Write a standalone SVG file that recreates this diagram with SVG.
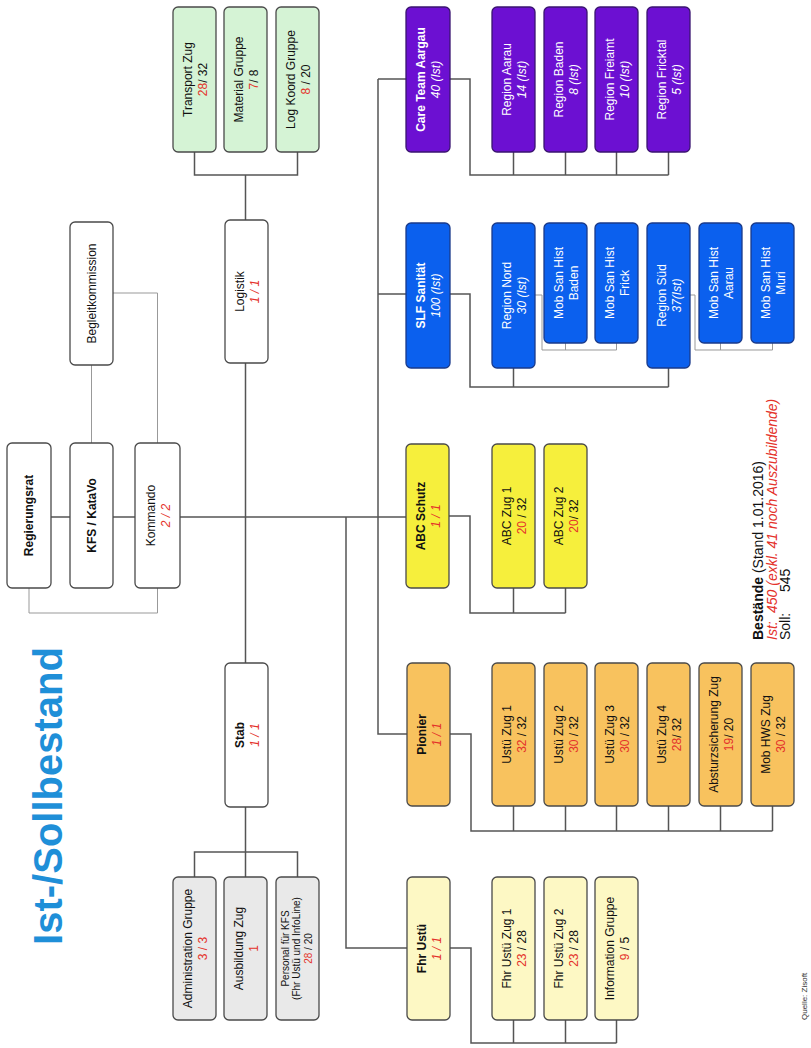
<svg xmlns="http://www.w3.org/2000/svg" width="811" height="1048" viewBox="0 0 811 1048">
<style>
text{font-family:"Liberation Sans",Arial,sans-serif;font-size:12px;fill:#111;text-anchor:middle}
.b{stroke:#4a4a4a;stroke-width:1.3}
.w{fill:#ffffff}.g{fill:#d5f3d5}.gr{fill:#e9e9e9}.ly{fill:#fdf8c4}.o{fill:#f8c25e}.y{fill:#f6ef3c}.bl{fill:#0b60ee;stroke:#1a3a8a}.pu{fill:#6c10d2;stroke:#3a1470}
.bd{font-weight:bold}.it{font-style:italic}
.r{fill:#e4322b}
.wt{fill:#ffffff}
.c{fill:none;stroke:#555;stroke-width:1.5}
.ct{fill:none;stroke:#999;stroke-width:1}
</style>
<rect width="811" height="1048" fill="#ffffff"/>

<text transform="translate(62,796) rotate(-90)" style="font-size:40px;font-weight:bold;fill:#1f8fd8">Ist-/Sollbestand</text>

<g id="connectors">
<path class="c" d="M51 517H70M113 517H135M180 517H406"/>
<path class="ct" d="M29 588V613H157.5V588"/>
<path class="ct" d="M91.5 443V365M113 293H157.5V443"/>
<path class="c" d="M245.5 175V852"/>
<path class="c" d="M194.5 152V175H297.5V152"/>
<path class="c" d="M194.5 877V852H297.5V877M245.5 852V877"/>
<path class="c" d="M346 517V948H407"/>
<path class="c" d="M378 79V734H407M378 79H406M378 294H406"/>
<path class="c" d="M450 79H470V175H668.5M513.5 152V175M565.5 152V175M616.5 152V175M668.5 152V175"/>
<path class="c" d="M450 294H470V387H668.5M513.5 368V387M668.5 368V387"/>
<path class="ct" d="M535 295H542V350H616.5M565.5 343V350M616.5 343V350"/>
<path class="ct" d="M690 295H695V350H772.5M720.5 343V350M772.5 343V350"/>
<path class="c" d="M449 516H470V613H565.5M513.5 588V613M565.5 588V613"/>
<path class="c" d="M450 734H471V831H772.5M513.5 806V831M565.5 806V831M616.5 806V831M668.5 806V831M720.5 806V831M772.5 806V831"/>
<path class="c" d="M450 948H471V1043H616.5M513.5 1020V1043M565.5 1020V1043M616.5 1020V1043"/>
</g>

<g id="n-regierungsrat"><rect class="b w" x="7" y="443" width="44" height="145" rx="5"/><text class="bd" transform="translate(29,515.5) rotate(-90)" y="4">Regierungsrat</text></g>
<g id="n-kfs"><rect class="b w" x="70" y="443" width="43" height="145" rx="5"/><text class="bd" transform="translate(91.5,515.5) rotate(-90)" y="4">KFS / KataVo</text></g>
<g id="n-kommando"><rect class="b w" x="135" y="443" width="45" height="145" rx="5"/><text transform="translate(157.5,515.5) rotate(-90)"><tspan x="0" y="-3">Kommando</tspan><tspan x="0" y="12" class="r it">2 / 2</tspan></text></g>
<g id="n-begleit"><rect class="b w" x="70" y="222" width="43" height="143" rx="5"/><text transform="translate(91.5,293.5) rotate(-90)" y="4">Begleitkommission</text></g>

<g id="n-logistik"><rect class="b w" x="225" y="220" width="43" height="143" rx="5"/><text transform="translate(246.5,291.5) rotate(-90)"><tspan x="0" y="-3">Logistik</tspan><tspan x="0" y="12" class="r it">1 / 1</tspan></text></g>
<g id="n-transport"><rect class="b g" x="173" y="7" width="43" height="145" rx="5"/><text transform="translate(194.5,79.5) rotate(-90)"><tspan x="0" y="-3">Transport Zug</tspan><tspan x="0" y="12"><tspan class="r">28</tspan>/ 32</tspan></text></g>
<g id="n-material"><rect class="b g" x="224" y="7" width="43" height="145" rx="5"/><text transform="translate(245.5,79.5) rotate(-90)"><tspan x="0" y="-3">Material Gruppe</tspan><tspan x="0" y="12"><tspan class="r">7</tspan>/ 8</tspan></text></g>
<g id="n-logkoord"><rect class="b g" x="276" y="7" width="43" height="145" rx="5"/><text transform="translate(297.5,79.5) rotate(-90)"><tspan x="0" y="-3">Log Koord Gruppe</tspan><tspan x="0" y="12"><tspan class="r">8</tspan> / 20</tspan></text></g>

<g id="n-stab"><rect class="b w" x="225" y="663" width="43" height="144" rx="5"/><text transform="translate(246.5,735) rotate(-90)"><tspan x="0" y="-3" class="bd">Stab</tspan><tspan x="0" y="12" class="r it">1 / 1</tspan></text></g>
<g id="n-admin"><rect class="b gr" x="173" y="877" width="43" height="143" rx="5"/><text transform="translate(194.5,948.5) rotate(-90)"><tspan x="0" y="-3">Administration Gruppe</tspan><tspan x="0" y="12" class="r">3 / 3</tspan></text></g>
<g id="n-ausbildung"><rect class="b gr" x="224" y="877" width="43" height="143" rx="5"/><text transform="translate(245.5,948.5) rotate(-90)"><tspan x="0" y="-3">Ausbildung Zug</tspan><tspan x="0" y="12" class="r">1</tspan></text></g>
<g id="n-personal"><rect class="b gr" x="276" y="877" width="43" height="143" rx="5"/><text transform="translate(297.5,948.5) rotate(-90)" style="font-size:10px"><tspan x="0" y="-9">Personal für KFS</tspan><tspan x="0" y="2">(Fhr Ustü und InfoLine)</tspan><tspan x="0" y="14"><tspan class="r">28</tspan> / 20</tspan></text></g>

<g id="n-fhrustu"><rect class="b ly" x="407" y="877" width="43" height="143" rx="5"/><text transform="translate(428.5,948.5) rotate(-90)"><tspan x="0" y="-3" class="bd">Fhr Ustü</tspan><tspan x="0" y="12" class="r it">1 / 1</tspan></text></g>
<g id="n-fhrzug1"><rect class="b ly" x="492" y="877" width="43" height="143" rx="5"/><text transform="translate(513.5,948.5) rotate(-90)"><tspan x="0" y="-3">Fhr Ustü Zug 1</tspan><tspan x="0" y="12"><tspan class="r">23</tspan> / 28</tspan></text></g>
<g id="n-fhrzug2"><rect class="b ly" x="544" y="877" width="43" height="143" rx="5"/><text transform="translate(565.5,948.5) rotate(-90)"><tspan x="0" y="-3">Fhr Ustü Zug 2</tspan><tspan x="0" y="12"><tspan class="r">23</tspan> / 28</tspan></text></g>
<g id="n-info"><rect class="b ly" x="595" y="877" width="43" height="143" rx="5"/><text transform="translate(616.5,948.5) rotate(-90)"><tspan x="0" y="-3">Information Gruppe</tspan><tspan x="0" y="12"><tspan class="r">9</tspan> / 5</tspan></text></g>

<g id="n-pionier"><rect class="b o" x="407" y="663" width="43" height="143" rx="5"/><text transform="translate(428.5,734.5) rotate(-90)"><tspan x="0" y="-3" class="bd">Pionier</tspan><tspan x="0" y="12" class="r it">1 / 1</tspan></text></g>
<g id="n-ustu1"><rect class="b o" x="492" y="663" width="43" height="143" rx="5"/><text transform="translate(513.5,734.5) rotate(-90)"><tspan x="0" y="-3">Ustü Zug 1</tspan><tspan x="0" y="12"><tspan class="r">32</tspan> / 32</tspan></text></g>
<g id="n-ustu2"><rect class="b o" x="544" y="663" width="43" height="143" rx="5"/><text transform="translate(565.5,734.5) rotate(-90)"><tspan x="0" y="-3">Ustü Zug 2</tspan><tspan x="0" y="12"><tspan class="r">30</tspan> / 32</tspan></text></g>
<g id="n-ustu3"><rect class="b o" x="595" y="663" width="43" height="143" rx="5"/><text transform="translate(616.5,734.5) rotate(-90)"><tspan x="0" y="-3">Ustü Zug 3</tspan><tspan x="0" y="12"><tspan class="r">30</tspan> / 32</tspan></text></g>
<g id="n-ustu4"><rect class="b o" x="647" y="663" width="43" height="143" rx="5"/><text transform="translate(668.5,734.5) rotate(-90)"><tspan x="0" y="-3">Ustü Zug 4</tspan><tspan x="0" y="12"><tspan class="r">28</tspan>/ 32</tspan></text></g>
<g id="n-absturz"><rect class="b o" x="699" y="663" width="43" height="143" rx="5"/><text transform="translate(720.5,734.5) rotate(-90)"><tspan x="0" y="-3">Absturzsicherung Zug</tspan><tspan x="0" y="12"><tspan class="r">19</tspan>/ 20</tspan></text></g>
<g id="n-mobhws"><rect class="b o" x="751" y="663" width="43" height="143" rx="5"/><text transform="translate(772.5,734.5) rotate(-90)"><tspan x="0" y="-3">Mob HWS Zug</tspan><tspan x="0" y="12"><tspan class="r">30</tspan> / 32</tspan></text></g>

<g id="n-abc"><rect class="b y" x="406" y="444" width="43" height="144" rx="5"/><text transform="translate(427.5,516) rotate(-90)"><tspan x="0" y="-3" class="bd">ABC Schutz</tspan><tspan x="0" y="12" class="r it">1 / 1</tspan></text></g>
<g id="n-abc1"><rect class="b y" x="492" y="444" width="43" height="144" rx="5"/><text transform="translate(513.5,516) rotate(-90)"><tspan x="0" y="-3">ABC Zug 1</tspan><tspan x="0" y="12"><tspan class="r">20</tspan> / 32</tspan></text></g>
<g id="n-abc2"><rect class="b y" x="544" y="444" width="43" height="144" rx="5"/><text transform="translate(565.5,516) rotate(-90)"><tspan x="0" y="-3">ABC Zug 2</tspan><tspan x="0" y="12"><tspan class="r">20</tspan>/ 32</tspan></text></g>

<g id="n-slf"><rect class="b bl" x="406" y="223" width="44" height="145" rx="5"/><text transform="translate(428,295.5) rotate(-90)"><tspan x="0" y="-3" class="bd wt">SLF Sanität</tspan><tspan x="0" y="12" class="wt it">100 (Ist)</tspan></text></g>
<g id="n-nord"><rect class="b bl" x="492" y="223" width="43" height="145" rx="5"/><text transform="translate(513.5,295.5) rotate(-90)"><tspan x="0" y="-3" class="wt">Region Nord</tspan><tspan x="0" y="12" class="wt it">30 (Ist)</tspan></text></g>
<g id="n-mobbaden"><rect class="b bl" x="544" y="223" width="43" height="120" rx="5"/><text transform="translate(565.5,283) rotate(-90)"><tspan x="0" y="-3" class="wt">Mob San Hist</tspan><tspan x="0" y="12" class="wt">Baden</tspan></text></g>
<g id="n-mobfrick"><rect class="b bl" x="595" y="223" width="43" height="120" rx="5"/><text transform="translate(616.5,283) rotate(-90)"><tspan x="0" y="-3" class="wt">Mob San Hist</tspan><tspan x="0" y="12" class="wt">Frick</tspan></text></g>
<g id="n-sued"><rect class="b bl" x="647" y="223" width="43" height="145" rx="5"/><text transform="translate(668.5,295.5) rotate(-90)"><tspan x="0" y="-3" class="wt">Region Süd</tspan><tspan x="0" y="12" class="wt it">37(Ist)</tspan></text></g>
<g id="n-mobaarau"><rect class="b bl" x="699" y="223" width="43" height="120" rx="5"/><text transform="translate(720.5,283) rotate(-90)"><tspan x="0" y="-3" class="wt">Mob San Hist</tspan><tspan x="0" y="12" class="wt">Aarau</tspan></text></g>
<g id="n-mobmuri"><rect class="b bl" x="751" y="223" width="43" height="120" rx="5"/><text transform="translate(772.5,283) rotate(-90)"><tspan x="0" y="-3" class="wt">Mob San Hist</tspan><tspan x="0" y="12" class="wt">Muri</tspan></text></g>

<g id="n-careteam"><rect class="b pu" x="406" y="7" width="44" height="145" rx="5"/><text transform="translate(428,79.5) rotate(-90)"><tspan x="0" y="-3" class="bd wt">Care Team Aargau</tspan><tspan x="0" y="12" class="wt it">40 (Ist)</tspan></text></g>
<g id="n-aarau"><rect class="b pu" x="492" y="7" width="43" height="145" rx="5"/><text transform="translate(513.5,79.5) rotate(-90)"><tspan x="0" y="-3" class="wt">Region Aarau</tspan><tspan x="0" y="12" class="wt it">14 (Ist)</tspan></text></g>
<g id="n-baden"><rect class="b pu" x="544" y="7" width="43" height="145" rx="5"/><text transform="translate(565.5,79.5) rotate(-90)"><tspan x="0" y="-3" class="wt">Region Baden</tspan><tspan x="0" y="12" class="wt it">8 (Ist)</tspan></text></g>
<g id="n-freiamt"><rect class="b pu" x="595" y="7" width="43" height="145" rx="5"/><text transform="translate(616.5,79.5) rotate(-90)"><tspan x="0" y="-3" class="wt">Region Freiamt</tspan><tspan x="0" y="12" class="wt it">10 (Ist)</tspan></text></g>
<g id="n-fricktal"><rect class="b pu" x="647" y="7" width="43" height="145" rx="5"/><text transform="translate(668.5,79.5) rotate(-90)"><tspan x="0" y="-3" class="wt">Region Fricktal</tspan><tspan x="0" y="12" class="wt it">5 (Ist)</tspan></text></g>

<g id="legend" style="font-size:14px">
<text transform="translate(763,640) rotate(-90)" style="text-anchor:start;font-size:14px"><tspan class="bd">Bestände</tspan> (Stand 1.01.2016)</text>
<text transform="translate(777,640) rotate(-90)" style="text-anchor:start;font-size:14px" class="r it"><tspan x="0">Ist:</tspan><tspan x="27">450 (exkl. 41 noch Auszubildende)</tspan></text>
<text transform="translate(790,640) rotate(-90)" style="text-anchor:start;font-size:14px"><tspan x="0">Soll:</tspan><tspan x="48">545</tspan></text>
</g>
<text transform="translate(807,1020) rotate(-90)" style="text-anchor:start;font-size:8px;fill:#333">Quelle: Zisoft</text>
</svg>
